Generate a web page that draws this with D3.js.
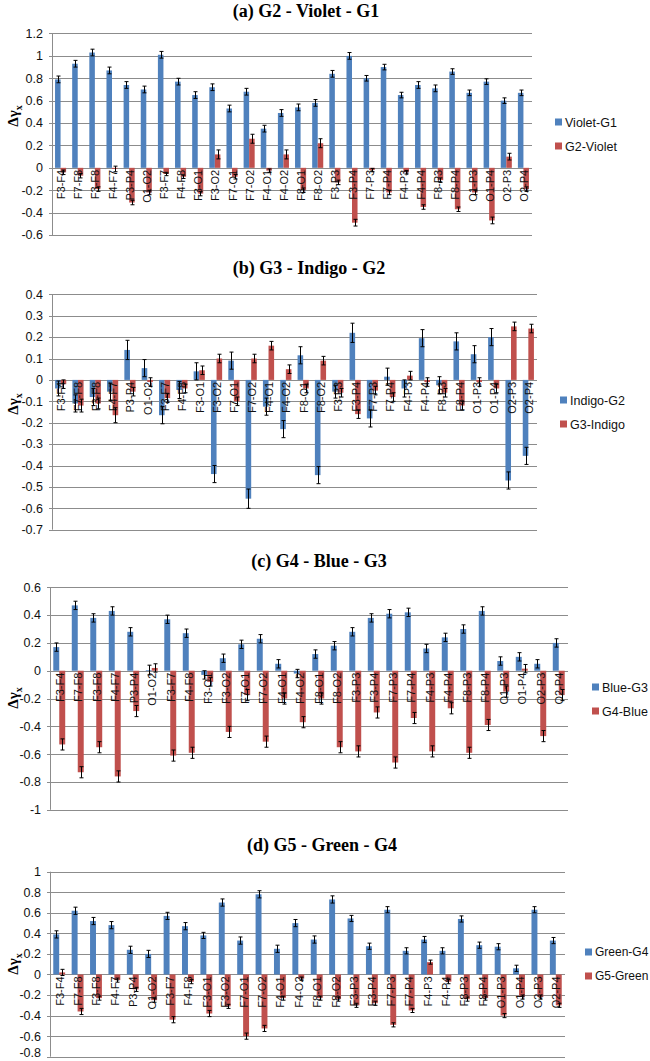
<!DOCTYPE html>
<html><head><meta charset="utf-8">
<script src="https://cdn.jsdelivr.net/npm/d3@7/dist/d3.min.js"></script>
<style>
html,body{margin:0;padding:0;background:#fff;}
svg{display:block;}
</style></head>
<body>
<svg id="chart" width="650" height="1061"></svg>
<script>
const categories = ["F3-F4","F7-F8","F3-F8","F4-F7","P3-P4","O1-O2","F3-F7","F4-F8","F3-O1","F3-O2","F7-O1","F7-O2","F4-O1","F4-O2","F8-O1","F8-O2","F3-P3","F3-P4","F7-P3","F7-P4","F4-P3","F4-P4","F8-P3","F8-P4","O1-P3","O1-P4","O2-P3","O2-P4"];

// (a) G2 - Violet - G1
const violetG1 = [0.79,0.93,1.03,0.87,0.74,0.70,1.01,0.77,0.65,0.72,0.53,0.68,0.35,0.49,0.54,0.58,0.84,1.00,0.80,0.90,0.65,0.74,0.71,0.86,0.67,0.77,0.60,0.67];
const violetG1Err = [0.03,0.03,0.03,0.03,0.03,0.03,0.03,0.03,0.03,0.03,0.03,0.03,0.03,0.03,0.03,0.03,0.03,0.03,0.025,0.025,0.025,0.03,0.03,0.025,0.025,0.025,0.025,0.025];
const g2Violet = [-0.04,-0.07,-0.19,-0.01,-0.31,-0.22,-0.055,-0.08,-0.23,0.12,-0.08,0.26,-0.025,0.12,-0.20,0.22,-0.13,-0.49,-0.02,-0.22,-0.04,-0.35,-0.11,-0.37,-0.22,-0.47,0.10,-0.19];
const g2VioletErr = [0.02,0.02,0.02,0.025,0.02,0.02,0.015,0.015,0.02,0.04,0.02,0.04,0.015,0.04,0.02,0.04,0.02,0.03,0.015,0.02,0.015,0.02,0.02,0.02,0.02,0.03,0.03,0.02];

// (b) G3 - Indigo - G2
const indigoG2 = [-0.04,-0.11,-0.08,-0.055,0.14,0.055,-0.165,-0.047,0.04,-0.44,0.09,-0.555,-0.125,-0.23,0.115,-0.445,-0.055,0.22,-0.18,0.015,-0.04,0.195,-0.025,0.18,0.12,0.20,-0.47,-0.355];
const indigoG2Err = [0.035,0.04,0.04,0.04,0.045,0.04,0.04,0.04,0.04,0.04,0.04,0.045,0.04,0.04,0.04,0.04,0.03,0.045,0.04,0.04,0.04,0.04,0.04,0.04,0.04,0.04,0.04,0.04];
const g3Indigo = [-0.02,-0.12,-0.11,-0.165,-0.055,-0.01,-0.085,-0.04,0.045,0.10,-0.10,0.10,0.16,0.05,-0.04,0.09,-0.06,-0.16,-0.05,-0.08,0.02,-0.01,-0.06,-0.12,-0.01,-0.04,0.25,0.24];
const g3IndigoErr = [0.02,0.03,0.025,0.035,0.02,0.02,0.02,0.02,0.02,0.02,0.02,0.02,0.02,0.02,0.02,0.02,0.02,0.02,0.02,0.02,0.02,0.02,0.02,0.02,0.02,0.02,0.02,0.02];

// (c) G4 - Blue - G3
const blueG3 = [0.17,0.47,0.38,0.43,0.28,0.005,0.37,0.27,-0.03,0.09,0.19,0.23,0.05,-0.02,0.12,0.18,0.28,0.38,0.41,0.42,0.16,0.24,0.30,0.43,0.07,0.10,0.05,0.20];
const blueG3Err = [0.03,0.03,0.03,0.03,0.03,0.035,0.03,0.03,0.03,0.03,0.03,0.03,0.03,0.03,0.03,0.03,0.03,0.03,0.03,0.03,0.03,0.03,0.03,0.03,0.03,0.03,0.03,0.03];
const g4Blue = [-0.53,-0.73,-0.55,-0.76,-0.29,0.02,-0.61,-0.59,-0.08,-0.44,-0.175,-0.51,-0.20,-0.37,-0.20,-0.55,-0.58,-0.30,-0.66,-0.34,-0.58,-0.27,-0.59,-0.39,-0.15,0.015,-0.47,-0.175];
const g4BlueErr = [0.04,0.04,0.04,0.04,0.04,0.03,0.04,0.04,0.03,0.04,0.04,0.04,0.04,0.04,0.04,0.04,0.04,0.04,0.04,0.04,0.04,0.04,0.04,0.04,0.04,0.03,0.04,0.04];

// (d) G5 - Green - G4
const greenG4 = [0.39,0.62,0.52,0.48,0.24,0.20,0.57,0.47,0.38,0.70,0.33,0.78,0.25,0.50,0.34,0.73,0.545,0.275,0.63,0.23,0.34,0.23,0.54,0.285,0.27,0.06,0.63,0.33];
const greenG4Err = [0.035,0.035,0.035,0.035,0.035,0.035,0.035,0.035,0.03,0.035,0.035,0.035,0.035,0.035,0.035,0.035,0.03,0.03,0.03,0.03,0.03,0.03,0.03,0.03,0.03,0.03,0.03,0.03];
const g5Green = [0.02,-0.36,-0.23,-0.055,-0.145,-0.25,-0.44,-0.07,-0.38,-0.31,-0.60,-0.525,-0.23,-0.04,-0.23,-0.24,-0.30,-0.28,-0.49,-0.35,0.12,-0.07,-0.24,-0.23,-0.40,-0.22,-0.22,-0.30];
const g5GreenErr = [0.03,0.03,0.02,0.02,0.02,0.02,0.03,0.02,0.03,0.02,0.03,0.03,0.02,0.015,0.02,0.02,0.02,0.02,0.02,0.02,0.02,0.02,0.02,0.02,0.02,0.02,0.02,0.02];

const seriesNames = [["Violet-G1","G2-Violet"],["Indigo-G2","G3-Indigo"],["Blue-G3","G4-Blue"],["Green-G4","G5-Green"]];
const titles = ["(a) G2 - Violet - G1","(b) G3 - Indigo - G2","(c) G4 - Blue - G3","(d) G5 - Green - G4"];
const yDomains = [[-0.6,1.2],[-0.7,0.4],[-1,0.6],[-0.8,1]];
const yTickSteps = [0.2,0.1,0.2,0.2];

// layout only
const layout = [
  {x0:52, x1:532, yTop:33.5, yBot:235,   titleX:306, titleY:17,  legX:555, legY:122, legFont:12.5, labY:116},
  {x0:52, x1:537, yTop:294.3, yBot:529.7, titleX:309, titleY:274, legX:560, legY:400, legFont:12.5, labY:404},
  {x0:50, x1:568, yTop:587.3, yBot:809.8, titleX:319, titleY:567, legX:592, legY:687, legFont:12.5, labY:698},
  {x0:50, x1:565, yTop:871.7, yBot:1056.7, titleX:322, titleY:851, legX:585, legY:952, legFont:12, labY:964}
];
const seriesData = [[violetG1,violetG1Err,g2Violet,g2VioletErr],[indigoG2,indigoG2Err,g3Indigo,g3IndigoErr],[blueG3,blueG3Err,g4Blue,g4BlueErr],[greenG4,greenG4Err,g5Green,g5GreenErr]];
const colors = ["#4F81BD","#C0504D"];

const svg = d3.select("#chart");
const fmt = d => { const v = Math.round(d*10)/10; return (v===0?0:v).toString(); };

layout.forEach((L, pi) => {
  const g = svg.append("g");
  const x = d3.scaleBand().domain(categories).range([L.x0, L.x1]).paddingInner(0).paddingOuter(0);
  const y = d3.scaleLinear().domain(yDomains[pi]).range([L.yBot, L.yTop]);
  const step = yTickSteps[pi];
  const n = Math.round((yDomains[pi][1]-yDomains[pi][0])/step);
  const ticks = d3.range(n+1).map(i => yDomains[pi][0] + i*step);

  g.append("g").selectAll("line").data(ticks).join("line")
    .attr("x1", L.x0-3).attr("x2", L.x1)
    .attr("y1", d=>Math.round(y(d))+0.5).attr("y2", d=>Math.round(y(d))+0.5)
    .attr("stroke", "#8c8c8c").attr("stroke-width", 1);
  g.append("line").attr("x1", L.x0+0.5).attr("x2", L.x0+0.5)
    .attr("y1", y(yDomains[pi][1])).attr("y2", y(yDomains[pi][0]))
    .attr("stroke", "#8c8c8c");
  g.append("g").selectAll("text").data(ticks).join("text")
    .attr("x", L.x0-9).attr("y", d=>Math.min(y(d), 1053)).attr("dy","0.35em")
    .attr("text-anchor","end")
    .attr("font-family","'Liberation Sans', Arial, sans-serif")
    .attr("font-size", 12.5).attr("fill","#111")
    .text(fmt);

  const sub = d3.scaleBand().domain([0,1]).range([0, x.bandwidth()]).paddingInner(0).paddingOuter(0.55);
  const [s1, e1, s2, e2] = seriesData[pi];
  [[s1,e1],[s2,e2]].forEach(([vals, errs], si) => {
    g.append("g").selectAll("rect").data(vals).join("rect")
      .attr("x", (d,i)=>x(categories[i]) + sub(si))
      .attr("width", sub.bandwidth())
      .attr("y", d=>Math.min(y(d), y(0)))
      .attr("height", d=>Math.abs(y(d)-y(0)))
      .attr("fill", colors[si]);
  });
  g.append("g").selectAll("text").data(categories).join("text")
    .attr("transform", d=>`translate(${x(d)+x.bandwidth()/2+4.5},${y(0)+2}) rotate(-90)`)
    .attr("text-anchor","end")
    .attr("font-family","'Liberation Sans', Arial, sans-serif")
    .attr("font-size", 11).attr("fill","#111")
    .text(d=>d);
  [[s1,e1],[s2,e2]].forEach(([vals, errs], si) => {
    const eg = g.append("g").attr("stroke","#000").attr("stroke-width",1);
    vals.forEach((v,i) => {
      const cx = Math.round(x(categories[i]) + sub(si) + sub.bandwidth()/2) + 0.5;
      const yt = y(v+errs[i]), yb = y(v-errs[i]);
      eg.append("line").attr("x1",cx).attr("x2",cx).attr("y1",yt).attr("y2",yb);
      eg.append("line").attr("x1",cx-2).attr("x2",cx+2).attr("y1",yt).attr("y2",yt);
      eg.append("line").attr("x1",cx-2).attr("x2",cx+2).attr("y1",yb).attr("y2",yb);
    });
  });

  svg.append("text").attr("x", L.titleX).attr("y", L.titleY)
    .attr("text-anchor","middle")
    .attr("font-family","'Liberation Serif', 'Times New Roman', serif")
    .attr("font-weight","bold").attr("font-size", 18).attr("fill","#000")
    .text(titles[pi]);

  const yl = svg.append("text")
    .attr("transform", `translate(18,${L.labY}) rotate(-90)`)
    .attr("text-anchor","middle")
    .attr("font-family","'Liberation Serif', 'Times New Roman', serif")
    .attr("font-weight","bold").attr("font-size", 15).attr("fill","#000");
  yl.append("tspan").text("Δγ");
  yl.append("tspan").attr("font-size", 10).attr("dy", 4).text("x");

  seriesNames[pi].forEach((name, si) => {
    const ly = L.legY + si*24;
    svg.append("rect").attr("x", L.legX).attr("y", ly-3.5).attr("width",7).attr("height",7).attr("fill", colors[si]);
    svg.append("text").attr("x", L.legX+10).attr("y", ly).attr("dy","0.36em")
      .attr("font-family","'Liberation Sans', Arial, sans-serif")
      .attr("font-size", L.legFont).attr("fill","#111").text(name);
  });
});
</script>
</body></html>
